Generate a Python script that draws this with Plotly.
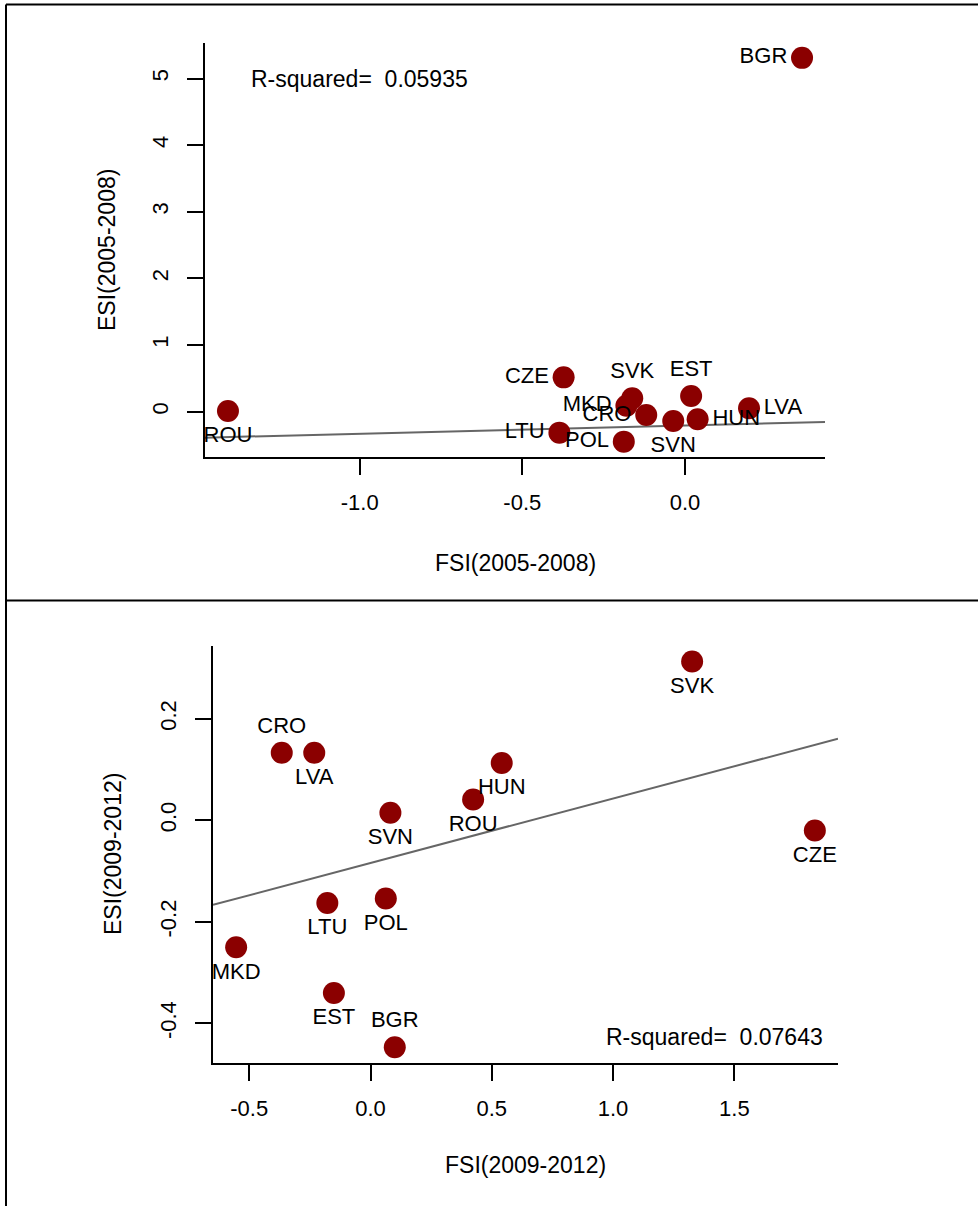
import plotly.graph_objects as go

countries=["BGR","CRO","CZE","EST","HUN","LTU","LVA","MKD","POL","ROU","SVK","SVN"]

# 2005-2008
fsi_0508=[0.36,-0.119,-0.373,0.019,0.039,-0.386,0.197,-0.18,-0.188,-1.405,-0.162,-0.036]
esi_0508=[5.31,-0.05,0.515,0.235,-0.115,-0.315,0.05,0.09,-0.45,0.01,0.20,-0.14]
pos_0508=["middle left","middle left","middle left","top center","middle right","middle left",
          "middle right","middle left","middle left","bottom center","top center","bottom center"]
fit_0508=[-0.207,0.124]   # intercept, slope of the drawn line
rsq_0508="0.05935"

# 2009-2012
fsi_0912=[0.100,-0.366,1.832,-0.151,0.541,-0.178,-0.232,-0.554,0.063,0.423,1.326,0.082]
esi_0912=[-0.447,0.133,-0.020,-0.340,0.113,-0.163,0.133,-0.250,-0.154,0.041,0.313,0.015]
pos_0912=["top center","top center","bottom center","bottom center","bottom center","bottom center",
          "bottom center","bottom center","bottom center","bottom center","bottom center","bottom center"]
fit_0912=[-0.084,0.127]
rsq_0912="0.07643"

xticks_0508=[-1.0,-0.5,0.0]
yticks_0508=[0,1,2,3,4,5]
xticks_0912=[-0.5,0.0,0.5,1.0,1.5]
yticks_0912=[-0.4,-0.2,0.0,0.2]

W,H=978,1206
font="Liberation Sans, Arial, Helvetica, sans-serif"
red="#8B0000"

def rng(v):
    # R style: data range plus 4% each side
    lo,hi=min(v),max(v)
    d=(hi-lo)*0.04
    return [lo-d,hi+d]

def px(x,y):
    return x/W,(H-y)/H

fig=go.Figure()

panels=[(fsi_0508,esi_0508,pos_0508,fit_0508,"","")
        ,(fsi_0912,esi_0912,pos_0912,fit_0912,"2","2")]
for fx,ey,pos,fit,xs,ys in panels:
    xr=rng(fx)
    fig.add_trace(go.Scatter(x=xr,y=[fit[0]+fit[1]*v for v in xr],mode="lines",
                             line=dict(color="#666666",width=2),xaxis="x"+xs,yaxis="y"+ys,
                             showlegend=False,hoverinfo="skip"))
    fig.add_trace(go.Scatter(x=fx,y=ey,mode="markers+text",text=countries,textposition=pos,
                             marker=dict(size=22,color=red),
                             textfont=dict(size=22,color="black",family=font),
                             cliponaxis=False,xaxis="x"+xs,yaxis="y"+ys,showlegend=False))

axstyle=dict(showline=True,linewidth=2,linecolor="black",ticks="outside",ticklen=16,tickwidth=2,
             tickcolor="black",showgrid=False,zeroline=False,tickfont=dict(size=22,color="black",family=font))

def xdom(a,b):
    return [px(a,0)[0],px(b,0)[0]]

def ydom(top,bottom):
    return [px(0,bottom)[1],px(0,top)[1]]

fig.update_layout(
    width=W,height=H,
    margin=dict(l=0,r=0,t=0,b=0),
    paper_bgcolor="white",plot_bgcolor="white",
    font=dict(family=font,size=22,color="black"),
    xaxis=dict(axstyle,domain=xdom(205,825),range=rng(fsi_0508),anchor="y",
               tickvals=xticks_0508,ticktext=["%.1f"%v for v in xticks_0508],ticklabelstandoff=9),
    yaxis=dict(axstyle,domain=ydom(42.5,457),range=rng(esi_0508),anchor="x",
               tickvals=yticks_0508,ticktext=[str(v) for v in yticks_0508],tickangle=-90,ticklabelstandoff=10),
    xaxis2=dict(axstyle,domain=xdom(213,838),range=rng(fsi_0912),anchor="y2",
                tickvals=xticks_0912,ticktext=["%.1f"%v for v in xticks_0912],ticklabelstandoff=9),
    yaxis2=dict(axstyle,domain=ydom(646,1062.7),range=rng(esi_0912),anchor="x2",
                tickvals=yticks_0912,ticktext=["%.1f"%v for v in yticks_0912],tickangle=-90,ticklabelstandoff=10),
)

# R-squared notes
fig.add_annotation(x=-1.0,y=5.0,xref="x",yref="y",text="R-squared=  "+rsq_0508,showarrow=False,
                   font=dict(size=23))
fig.add_annotation(x=1.42,y=-0.426,xref="x2",yref="y2",text="R-squared=  "+rsq_0912,showarrow=False,
                   font=dict(size=23))

# axis titles
titles=[("FSI(2005-2008)",515,563,0),("ESI(2005-2008)",107,250,-90),
        ("FSI(2009-2012)",525,1165,0),("ESI(2009-2012)",113,854,-90)]
for t,x,y,a in titles:
    ax,ay=px(x,y)
    fig.add_annotation(x=ax,y=ay,xref="paper",yref="paper",text=t,showarrow=False,textangle=a,
                       xanchor="center",yanchor="middle",font=dict(size=23))

# panel frames
x0=px(6,0)[0]
for y in [4.5,600.5]:
    yy=px(0,y)[1]
    fig.add_shape(type="line",xref="paper",yref="paper",x0=x0,x1=1.02,y0=yy,y1=yy,
                  line=dict(color="black",width=2))
fig.add_shape(type="line",xref="paper",yref="paper",x0=x0,x1=x0,y0=px(0,4.5)[1],y1=-0.02,
              line=dict(color="black",width=2))

# drop the default body margin so the figure sits at the page corner
fig.write_html("out.html",config={"displayModeBar":False},
               post_script="document.body.style.margin='0';")
